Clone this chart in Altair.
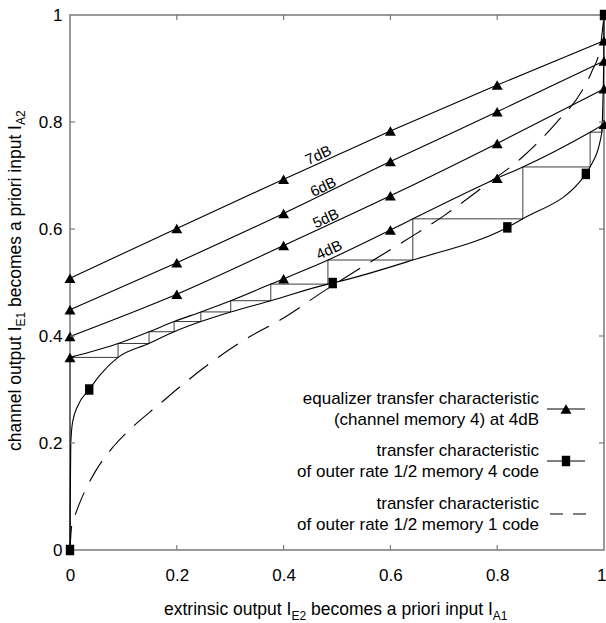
import altair as alt
import pandas as pd

FONT = "Liberation Sans"
W, H = 534, 535
FRAME = "#7a7a7a"

# ---------------- data ----------------
eq_x = [0.0, 0.2, 0.4, 0.6, 0.8, 1.0]
eq7_y = [0.508, 0.601, 0.693, 0.783, 0.869, 0.952]
eq6_y = [0.449, 0.537, 0.629, 0.726, 0.819, 0.914]
eq5_y = [0.399, 0.478, 0.569, 0.662, 0.760, 0.862]

eq4_x = [0.0, 0.090, 0.148, 0.195, 0.245, 0.301, 0.376, 0.483, 0.600, 0.642, 0.800, 0.848, 0.974, 1.0]
eq4_y = [0.360, 0.386, 0.408, 0.427, 0.445, 0.466, 0.497, 0.542, 0.598, 0.619, 0.695, 0.716, 0.781, 0.796]
eq4_mark_x = [0.0, 0.4, 0.6, 0.8, 1.0]
eq4_mark_y = [0.360, 0.507, 0.598, 0.695, 0.796]

m4_x = [0.0, 0.0005, 0.0015, 0.005, 0.015, 0.036, 0.056, 0.090, 0.148, 0.195, 0.245, 0.301,
        0.376, 0.483, 0.492, 0.642, 0.819, 0.848, 0.966, 0.974, 0.996, 0.998, 0.9995, 1.0]
m4_y = [0.0, 0.10, 0.20, 0.24, 0.27, 0.300, 0.327, 0.360, 0.386, 0.408, 0.427, 0.445,
        0.466, 0.497, 0.499, 0.542, 0.603, 0.619, 0.703, 0.716, 0.781, 0.84, 0.92, 1.0]
m4_mark_x = [0.0, 0.036, 0.492, 0.819, 0.966, 1.0]
m4_mark_y = [0.0, 0.300, 0.499, 0.603, 0.703, 1.0]

m1_x = [0.0, 0.003, 0.011, 0.019, 0.047, 0.081, 0.125, 0.162, 0.218, 0.262, 0.337, 0.399,
        0.474, 0.549, 0.627, 0.702, 0.774, 0.849, 0.911, 0.958, 0.977, 0.993, 1.0]
m1_y = [0.0, 0.044, 0.069, 0.090, 0.146, 0.193, 0.237, 0.268, 0.315, 0.349, 0.399, 0.433,
        0.483, 0.530, 0.578, 0.626, 0.679, 0.736, 0.799, 0.857, 0.894, 0.94, 1.0]

stair_x = [0.0, 0.0, 0.090, 0.090, 0.148, 0.148, 0.195, 0.195, 0.245, 0.245, 0.301, 0.301,
           0.376, 0.376, 0.483, 0.483, 0.642, 0.642, 0.848, 0.848, 0.974, 0.974, 0.996, 0.996]
stair_y = [0.0, 0.360, 0.360, 0.386, 0.386, 0.408, 0.408, 0.427, 0.427, 0.445, 0.445, 0.466,
           0.466, 0.497, 0.497, 0.542, 0.542, 0.619, 0.619, 0.716, 0.716, 0.781, 0.781, 0.795]

snr_labels = ["7dB", "6dB", "5dB", "4dB"]
snr_label_x = [0.465, 0.474, 0.479, 0.485]
snr_label_y = [0.738, 0.679, 0.620, 0.561]

tick_values = [0.0, 0.2, 0.4, 0.6, 0.8, 1.0]
inner_ticks = [0.2, 0.4, 0.6, 0.8]

legend_lines = [
    ["equalizer transfer characteristic", "(channel memory 4) at 4dB"],
    ["transfer characteristic", "of outer rate 1/2 memory 4 code"],
    ["transfer characteristic", "of outer rate 1/2 memory 1 code"],
]

# ---------------- helpers ----------------
AW = {'a': 556, 'b': 556, 'c': 500, 'd': 556, 'e': 556, 'f': 278, 'g': 556, 'h': 556, 'i': 222,
      'l': 222, 'm': 833, 'n': 556, 'o': 556, 'p': 556, 'r': 333, 's': 500, 't': 278, 'u': 556,
      'x': 500, ' ': 278, 'I': 278, 'E': 667, 'A': 667, '1': 556, '2': 556}


def tw(s, fs):
    return sum(AW.get(c, 556) for c in s) / 1000.0 * fs


one = pd.DataFrame({"k": [0]})
xs = alt.Scale(domain=[0, 1], nice=False, zero=False)
ys = alt.Scale(domain=[0, 1], nice=False, zero=False)

xaxis = alt.Axis(values=tick_values, format="~g", title=None, domain=False, ticks=False,
                 grid=False, labelFont=FONT, labelFontSize=17, labelColor="black",
                 labelPadding=17, labelFlush=False, labelOverlap=False,
                 labelAlign={"condition": {"test": "datum.value >= 1", "value": "right"},
                             "value": "center"},
                 labelOffset={"condition": {"test": "datum.value >= 1", "value": 2},
                              "value": 0})
yaxis = alt.Axis(values=tick_values, format="~g", title=None, domain=False, ticks=False,
                 grid=False, labelFont=FONT, labelFontSize=17, labelColor="black",
                 labelPadding=8, labelFlush=False, labelOverlap=False)


def X(f="x"):
    return alt.X(f + ":Q", scale=xs, axis=xaxis, title=None)


def Y(f="y"):
    return alt.Y(f + ":Q", scale=ys, axis=yaxis, title=None)


def curve_df(xv, yv, name):
    return pd.DataFrame({"x": xv, "y": yv, "curve": name, "i": list(range(len(xv)))})


eq_df = pd.concat([
    curve_df(eq_x, eq7_y, "7dB"),
    curve_df(eq_x, eq6_y, "6dB"),
    curve_df(eq_x, eq5_y, "5dB"),
    curve_df(eq4_x, eq4_y, "4dB"),
])
eq_marks = pd.concat([
    curve_df(eq_x, eq7_y, "7dB"),
    curve_df(eq_x, eq6_y, "6dB"),
    curve_df(eq_x, eq5_y, "5dB"),
    curve_df(eq4_mark_x, eq4_mark_y, "4dB"),
])
m4_df = curve_df(m4_x, m4_y, "m4")
m4_marks = curve_df(m4_mark_x, m4_mark_y, "m4")
m1_df = curve_df(m1_x, m1_y, "m1")
stair_df = curve_df(stair_x, stair_y, "stair")
lab_df = pd.DataFrame({"x": snr_label_x, "y": snr_label_y, "t": snr_labels})
tick_df = pd.DataFrame({"x": inner_ticks, "y": inner_ticks})

TRI = "M0,-0.866L1,0.866L-1,0.866Z"
SQ = "M-0.8,-1L0.8,-1L0.8,1L-0.8,1Z"

stair = alt.Chart(stair_df).mark_line(color="#3c3c3c", strokeWidth=1).encode(
    x=X(), y=Y(), order="i:Q")
eq_lines = alt.Chart(eq_df).mark_line(color="black", strokeWidth=1.1, interpolate="monotone").encode(
    x=X(), y=Y(), detail="curve:N", order="i:Q")
m4_line = alt.Chart(m4_df).mark_line(color="black", strokeWidth=1.1, interpolate="monotone").encode(
    x=X(), y=Y(), order="i:Q")
m1_line = alt.Chart(m1_df).mark_line(color="black", strokeWidth=1.1, interpolate="monotone",
                                     strokeDash=[24, 12]).encode(x=X(), y=Y(), order="i:Q")
eq_pts = alt.Chart(eq_marks).mark_point(shape=TRI, filled=True, color="black", opacity=1,
                                        size=120, strokeWidth=0).encode(x=X(), y=Y())
m4_pts = alt.Chart(m4_marks).mark_point(shape=SQ, filled=True, color="black", opacity=1,
                                        size=110, strokeWidth=0).encode(x=X(), y=Y())
labels = alt.Chart(lab_df).mark_text(font=FONT, fontSize=15, angle=335, align="center",
                                     baseline="middle", color="black").encode(
    x=X(), y=Y(), text="t:N")

# inward tick marks on all four sides
tk = dict(color=FRAME, strokeWidth=1.2)
ticks = [
    alt.Chart(tick_df).mark_rule(**tk).encode(x=X(), y=alt.value(H), y2=alt.value(H - 5)),
    alt.Chart(tick_df).mark_rule(**tk).encode(x=X(), y=alt.value(0), y2=alt.value(5)),
    alt.Chart(tick_df).mark_rule(**tk).encode(y=Y(), x=alt.value(0), x2=alt.value(5)),
    alt.Chart(tick_df).mark_rule(**tk).encode(y=Y(), x=alt.value(W), x2=alt.value(W - 5)),
]


def txt(s, x, y, fs, align="left", angle=0):
    kw = dict(font=FONT, fontSize=fs, align=align, baseline="alphabetic", color="black")
    if angle:
        kw["angle"] = angle
    return alt.Chart(one).mark_text(text=s, **kw).encode(x=alt.value(x), y=alt.value(y))


# axis titles with subscripts
MF, SF = 17.5, 12
xt_parts = [("extrinsic output I", MF), ("E2", SF), (" becomes a priori input I", MF), ("A1", SF)]
yt_parts = [("channel output I", MF), ("E1", SF), (" becomes a priori input I", MF), ("A2", SF)]

title_layers = []
cx = 94.0
for s, fs in xt_parts:
    lead = len(s) - len(s.lstrip(" "))
    title_layers.append(txt(s.lstrip(" "), cx + tw(" " * lead, fs), 600 if fs == MF else 605, fs))
    cx += tw(s, fs)
cy = 436.0
for s, fs in yt_parts:
    lead = len(s) - len(s.lstrip(" "))
    title_layers.append(txt(s.lstrip(" "), -49 if fs == MF else -45, cy - tw(" " * lead, fs), fs,
                            angle=270))
    cy -= tw(s, fs)

# legend
legend_layers = []
base_y = [389, 441, 494]
for k, (l1, l2) in enumerate(legend_lines):
    by = base_y[k]
    legend_layers.append(txt(l1, 469, by, 17, align="right"))
    legend_layers.append(txt(l2, 469, by + 21, 17, align="right"))
    sy = by + 5
    if k < 2:
        legend_layers.append(alt.Chart(one).mark_rule(color="black", strokeWidth=1.1).encode(
            x=alt.value(477), x2=alt.value(515), y=alt.value(sy)))
        legend_layers.append(alt.Chart(one).mark_point(
            shape=TRI if k == 0 else SQ, filled=True, color="black", opacity=1,
            size=120 if k == 0 else 110, strokeWidth=0).encode(x=alt.value(496), y=alt.value(sy)))
    else:
        legend_layers.append(alt.Chart(one).mark_rule(color="black", strokeWidth=1.1,
                                                      strokeDash=[13, 10]).encode(
            x=alt.value(480), x2=alt.value(517), y=alt.value(sy)))

chart = alt.layer(
    stair, m1_line, m4_line, eq_lines, eq_pts, m4_pts, labels,
    *ticks, *legend_layers, *title_layers,
).properties(
    width=W, height=H,
    autosize=alt.AutoSizeParams(type="none"),
    padding={"left": 70, "top": 15, "right": 2, "bottom": 73},
    background="white",
).configure_view(stroke=FRAME, strokeWidth=1.5)

chart.save("out.html", embed_options={"renderer": "svg", "actions": False})
